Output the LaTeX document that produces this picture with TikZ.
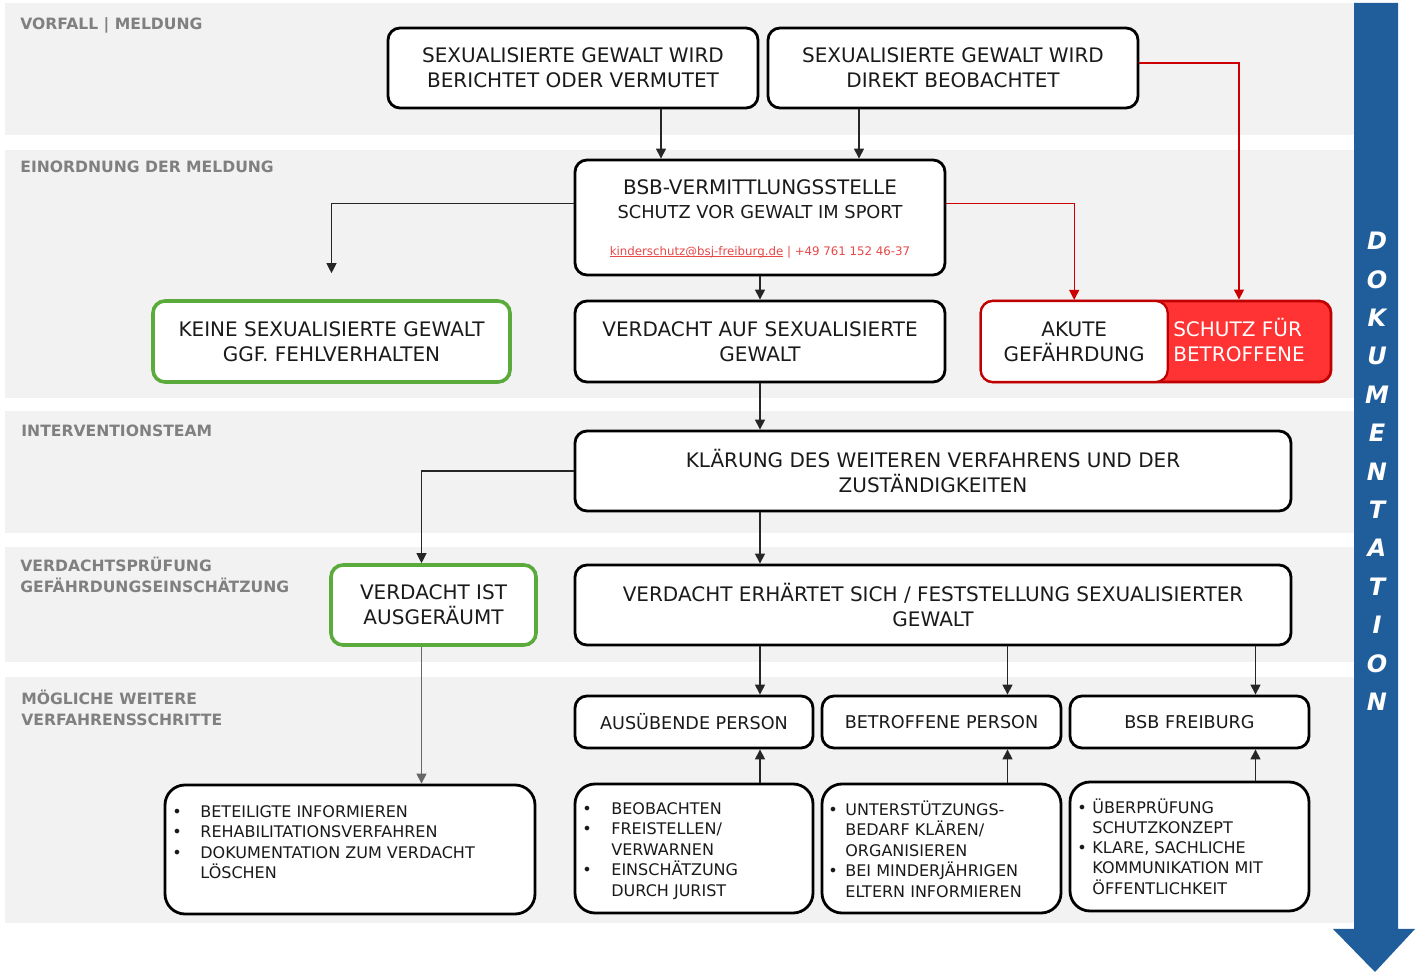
\documentclass[tikz,border=0pt]{standalone}
\usepackage{fontspec}
\setmainfont{DejaVu Sans}
\usetikzlibrary{arrows.meta,positioning,calc}
\definecolor{bandgray}{HTML}{F2F2F2}
\definecolor{labelgray}{HTML}{808080}
\definecolor{inkgray}{HTML}{1A1A1A}
\definecolor{okgreen}{HTML}{5AAA3C}
\definecolor{alertdark}{HTML}{C00000}
\definecolor{alertfill}{HTML}{FF3333}
\definecolor{alertline}{HTML}{CC0000}
\definecolor{mailred}{HTML}{E84848}
\definecolor{docblue}{HTML}{205E9B}
\newcommand{\mailrule}[1]{\setbox0\hbox{#1}\rlap{\rule[-0.9pt]{\wd0}{0.3pt}}\box0\relax}
\tikzset{
    >={Triangle[width=5pt,length=5pt]},
    box/.style ={draw=black, line width=1.4pt, rounded corners=6pt, fill=white, align=center,
                 text=inkgray, inner sep=0pt, font=\fontsize{10}{12.5}\selectfont},
    okbox/.style = {box, draw=okgreen, line width=1.8pt},
    personbox/.style = {box, font=\fontsize{8.8}{11}\selectfont},
    listbox/.style = {box, rounded corners=10pt},
    listtext/.style = {anchor=north west, inner sep=0pt, text=inkgray, font=\fontsize{8}{10.15}\selectfont},
    phase/.style = {anchor=north west, align=left, inner sep=0pt, text=labelgray,
                    font=\bfseries\fontsize{7.8}{10.5}\selectfont},
    docletter/.style = {text=white, inner sep=0pt, font=\bfseries\itshape\fontsize{12}{12}\selectfont},
    link/.style = {->, line width=0.6pt, draw=black!85},
    alertlink/.style = {->, line width=0.6pt, draw=alertline}
}
\begin{document}
\begin{tikzpicture}[x=0.5pt,y=-0.5pt]
    \useasboundingbox (0,0) rectangle (1415,972);
    % phase bands
    \foreach \top/\bot in {3/135,150/398,411/533,547/662,677/923}
        \fill[bandgray] (5,\top) rectangle (1360,\bot);
    \node[phase] (phase1) at (20,17) {VORFALL | MELDUNG};
    \node[phase] (phase2) at (20,161) {EINORDNUNG DER MELDUNG};
    \node[phase] (phase3) at (21,425) {INTERVENTIONSTEAM};
    \node[phase] (phase4) at (20,557) {VERDACHTSPRÜFUNG\\GEFÄHRDUNGSEINSCHÄTZUNG};
    \node[phase] (phase5) at (21,690) {MÖGLICHE WEITERE\\VERFAHRENSSCHRITTE};
    % documentation arrow
    \fill[docblue] (1354,3) -- (1398,3) -- (1398,929) -- (1415,929) -- (1375,972)
        -- (1333,929) -- (1354,929) -- cycle;
    \foreach \ch [count=\i from 0] in {D,O,K,U,M,E,N,T,A,T,I,O,N}
        \node[docletter] (doc\i) at (1377,{241+38.4*\i}) {\ch};
    % incident
    \node[box, minimum width=185pt, minimum height=40pt] (report) at (573,68)
        {SEXUALISIERTE GEWALT WIRD\\BERICHTET ODER VERMUTET};
    \node[box, minimum width=185pt, minimum height=40pt] (observed) at (953,68)
        {SEXUALISIERTE GEWALT WIRD\\DIREKT BEOBACHTET};
    % classification
    \node[box, minimum width=185pt, minimum height=57.5pt] (bsb) at (760,217.5) {};
    \node[align=center, inner sep=0pt, text=inkgray, font=\fontsize{10}{12}\selectfont] (bsbtitle) at (760,199)
        {BSB-VERMITTLUNGSSTELLE\\\fontsize{8.9}{12}\selectfont SCHUTZ VOR GEWALT IM SPORT};
    \node[inner sep=0pt, text=mailred, font=\fontsize{5.9}{7}\selectfont] (bsbmail) at (760,252)
        {\mailrule{kinderschutz@bsj-freiburg.de} | +49 761 152 46-37};
    \node[okbox, minimum width=178.5pt, minimum height=40.5pt] (none) at (331.5,341.5)
        {KEINE SEXUALISIERTE GEWALT\\GGF. FEHLVERHALTEN};
    \node[box, minimum width=185pt, minimum height=40.5pt] (suspicion) at (760,341.5)
        {VERDACHT AUF SEXUALISIERTE\\GEWALT};
    \node[box, draw=alertdark, fill=alertfill, minimum width=175pt, minimum height=40.5pt] (danger) at (1156,341.5) {};
    \node[box, draw=alertdark, line width=1.1pt, minimum width=93.5pt, minimum height=40.5pt, anchor=west] (akute)
        at (danger.west) {AKUTE\\GEFÄHRDUNG};
    \node[align=left, inner sep=0pt, text=white, font=\fontsize{10}{12.5}\selectfont] (schutz) at (1239,340.5)
        {SCHUTZ FÜR\\BETROFFENE};
    % intervention team
    \node[box, minimum width=358pt, minimum height=40pt] (clarify) at (933,471)
        {KLÄRUNG DES WEITEREN VERFAHRENS UND DER\\ZUSTÄNDIGKEITEN};
    \node[okbox, minimum width=102.5pt, minimum height=40pt] (cleared) at (433.5,605)
        {VERDACHT IST\\AUSGERÄUMT};
    \node[box, minimum width=358pt, minimum height=40pt] (confirmed) at (933,605)
        {VERDACHT ERHÄRTET SICH / FESTSTELLUNG SEXUALISIERTER\\GEWALT};
    % further steps
    \node[personbox, minimum width=119pt, minimum height=26pt] (perp) at (694,722) {AUSÜBENDE PERSON};
    \node[personbox, minimum width=119.5pt, minimum height=26pt] (victim) at (941.5,722) {BETROFFENE PERSON};
    \node[personbox, minimum width=119.5pt, minimum height=26pt] (bsbfr) at (1189.5,722) {BSB FREIBURG};
    \node[listbox, minimum width=185pt, minimum height=64.5pt] (list1) at (350,849.5) {};
    \node[listbox, minimum width=119pt, minimum height=64.5pt] (list2) at (694,848.5) {};
    \node[listbox, minimum width=119.5pt, minimum height=64.5pt] (list3) at (941.5,848.5) {};
    \node[listbox, minimum width=119.5pt, minimum height=64.5pt] (list4) at (1189.5,846.5) {};
    \node[listtext] (items1) at (172,803) {\begin{tabular}{@{}p{14pt}@{}l@{}}
        \textbullet & BETEILIGTE INFORMIEREN\\
        \textbullet & REHABILITATIONSVERFAHREN\\
        \textbullet & DOKUMENTATION ZUM VERDACHT\\
                    & LÖSCHEN\end{tabular}};
    \node[listtext] (items2) at (582,800) {\begin{tabular}{@{}p{14.5pt}@{}l@{}}
        \textbullet & BEOBACHTEN\\
        \textbullet & FREISTELLEN/\\
                    & VERWARNEN\\
        \textbullet & EINSCHÄTZUNG\\
                    & DURCH JURIST\end{tabular}};
    \node[listtext] (items3) at (828,800) {\begin{tabular}{@{}p{8.5pt}@{}l@{}}
        \textbullet & UNTERSTÜTZUNGS-\\
                    & BEDARF KLÄREN/\\
                    & ORGANISIEREN\\
        \textbullet & BEI MINDERJÄHRIGEN\\
                    & ELTERN INFORMIEREN\end{tabular}};
    \node[listtext] (items4) at (1077,798) {\begin{tabular}{@{}p{7.5pt}@{}l@{}}
        \textbullet & ÜBERPRÜFUNG\\
                    & SCHUTZKONZEPT\\
        \textbullet & KLARE, SACHLICHE\\
                    & KOMMUNIKATION MIT\\
                    & ÖFFENTLICHKEIT\end{tabular}};
    % reports into the office
    \draw[link] ([xshift=44pt]report.south) -- ([xshift=44pt]report.south |- bsb.north);
    \draw[link] ([xshift=-47pt]observed.south) -- ([xshift=-47pt]observed.south |- bsb.north);
    \draw[link] ([yshift=7pt]bsb.west) -| ([yshift=13pt]none.north);
    \draw[link] (bsb) -- (suspicion);
    % acute danger
    \draw[alertlink] ([yshift=7pt]bsb.east) -| (akute.north);
    \draw[alertlink] ([yshift=2.5pt]observed.east) -| (danger.north -| schutz);
    % intervention
    \draw[link] (suspicion) -- (suspicion |- clarify.north);
    \draw[link] (clarify.south -| suspicion) -- (confirmed.north -| suspicion);
    \draw[link] (clarify.west) -| ([xshift=-6pt]cleared.north);
    \draw[link, draw=black!60] ([xshift=-6pt]cleared.south) -- ([xshift=-6pt]cleared.south |- list1.north);
    \foreach \who/\list in {perp/list2,victim/list3,bsbfr/list4}{
        \coordinate (\who-in) at ([xshift=33pt]\who.north);
        \draw[link] (confirmed.south -| \who-in) -- (\who-in);
        \draw[link] (\list.north -| \who-in) -- (\who.south -| \who-in);
    }
\end{tikzpicture}
\end{document}
